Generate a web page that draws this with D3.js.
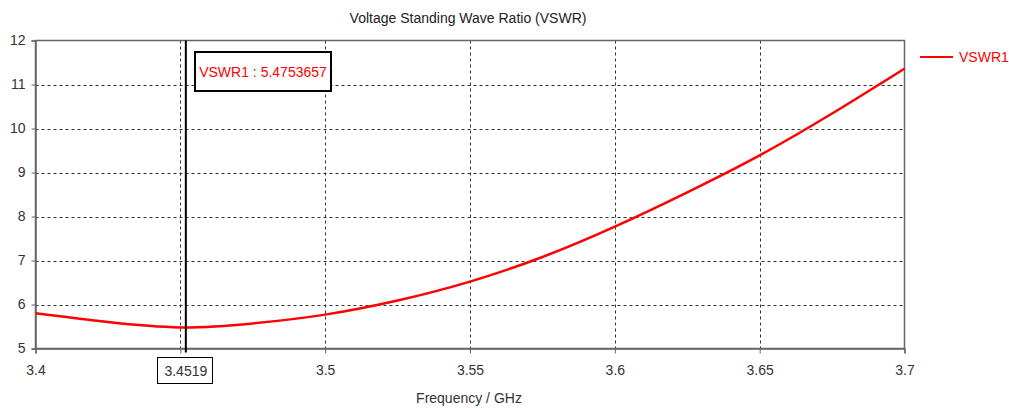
<!DOCTYPE html>
<html>
<head>
<meta charset="utf-8">
<script src="https://cdn.jsdelivr.net/npm/d3@7"></script>
<style>
	body { margin: 0; background: #fff; }
	text { font-family: "Liberation Sans", Arial, sans-serif; }
</style>
</head>
<body>
<svg id="chart"></svg>
<script>
const freq = [3.40, 3.425, 3.45, 3.475, 3.50, 3.525, 3.55, 3.575, 3.60, 3.625, 3.65, 3.675, 3.70];
const vswr = [5.80, 5.60, 5.48, 5.57, 5.77, 6.09, 6.52, 7.08, 7.77, 8.55, 9.39, 10.34, 11.36];
const xTicks = [3.4, 3.45, 3.5, 3.55, 3.6, 3.65, 3.7];
const yTicks = [5, 6, 7, 8, 9, 10, 11, 12];
const markerX = 3.4519;
const markerLabel = 'VSWR1 : 5.4753657';
const seriesName = 'VSWR1';

const W = 1009, H = 408;
const svg = d3.select('#chart').attr('width', W).attr('height', H);

const x = d3.scaleLinear().domain([3.4, 3.7]).range([35.5, 904.5]);
const y = d3.scaleLinear().domain([5, 12]).range([348.5, 40.5]);

const grid = svg.append('g');
// gridlines
grid.selectAll('line.h').data(yTicks.slice(1, -1)).enter().append('line')
	.attr('x1', x(3.4)).attr('x2', x(3.7))
	.attr('y1', d => Math.round(y(d)) + 0.5).attr('y2', d => Math.round(y(d)) + 0.5)
	.attr('stroke', '#333').attr('stroke-dasharray', '3,3');
grid.selectAll('line.v').data(xTicks.slice(1, -1)).enter().append('line')
	.attr('y1', y(12)).attr('y2', y(5))
	.attr('x1', d => Math.round(x(d)) + 0.5).attr('x2', d => Math.round(x(d)) + 0.5)
	.attr('stroke', '#333').attr('stroke-dasharray', '3,3');

// frame
svg.append('rect')
	.attr('x', x(3.4)).attr('y', y(12))
	.attr('width', x(3.7) - x(3.4)).attr('height', y(5) - y(12))
	.attr('fill', 'none').attr('stroke', '#666').attr('stroke-width', 1.5);

// axes
const xAxis = svg.append('g').attr('transform', `translate(0,${y(5)})`)
	.call(d3.axisBottom(x).tickValues(xTicks).tickSize(5).tickPadding(12).tickFormat(d3.format('')));
const yAxis = svg.append('g').attr('transform', `translate(${x(3.4)},0)`)
	.call(d3.axisLeft(y).tickValues(yTicks).tickSize(4).tickPadding(6).tickFormat(d3.format('d')));
[xAxis, yAxis].forEach(a => {
	a.select('.domain').attr('stroke', '#666').attr('stroke-width', 1.5);
	a.selectAll('.tick line').attr('stroke', '#666');
	a.selectAll('.tick text').attr('fill', '#333').style('font-size', '14px')
		.style('font-family', '"Liberation Sans", Arial, sans-serif');
});
xAxis.selectAll('.tick text').filter(d => d === 3.45).remove();

// curve
const line = d3.line().x((d, i) => x(freq[i])).y(d => y(d)).curve(d3.curveNatural);
svg.append('path').datum(vswr)
	.attr('d', line)
	.attr('fill', 'none').attr('stroke', '#ff0000').attr('stroke-width', 2.5);

// marker
svg.append('line')
	.attr('x1', x(markerX)).attr('x2', x(markerX))
	.attr('y1', y(12)).attr('y2', y(5) + 4)
	.attr('stroke', '#000').attr('stroke-width', 2);

const lbl = svg.append('g');
lbl.append('rect')
	.attr('x', 195).attr('y', 52).attr('width', 136).attr('height', 39)
	.attr('fill', '#fff').attr('stroke', '#000').attr('stroke-width', 2);
lbl.append('text')
	.attr('x', 263).attr('y', 77).attr('text-anchor', 'middle')
	.attr('fill', '#ff0000').style('font-size', '14px').text(markerLabel);

const xl = svg.append('g');
xl.append('rect')
	.attr('x', 157.5).attr('y', 357.5).attr('width', 55).attr('height', 26)
	.attr('fill', '#fff').attr('stroke', '#000').attr('stroke-width', 1);
xl.append('text')
	.attr('x', x(markerX)).attr('y', 376).attr('text-anchor', 'middle')
	.attr('fill', '#333').style('font-size', '14px').text(markerX);

// title & axis title
svg.append('text')
	.attr('x', 468).attr('y', 23).attr('text-anchor', 'middle')
	.attr('fill', '#222').style('font-size', '14px')
	.text('Voltage Standing Wave Ratio (VSWR)');
svg.append('text')
	.attr('x', 469).attr('y', 403).attr('text-anchor', 'middle')
	.attr('fill', '#333').style('font-size', '14px')
	.text('Frequency / GHz');

// legend
svg.append('line')
	.attr('x1', 920).attr('x2', 953).attr('y1', 57).attr('y2', 57)
	.attr('stroke', '#ff0000').attr('stroke-width', 2);
svg.append('text')
	.attr('x', 959).attr('y', 62)
	.attr('fill', '#ff0000').style('font-size', '14px').text(seriesName);
</script>
</body>
</html>
